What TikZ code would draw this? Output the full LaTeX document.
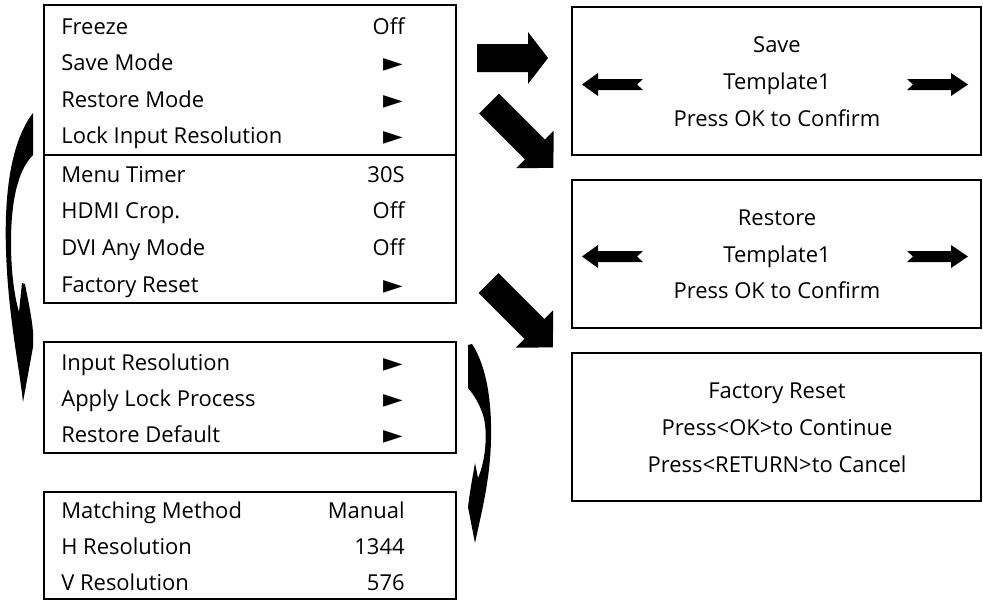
\documentclass[tikz,border=0pt]{standalone}
\usepackage{fontspec}
\setmainfont{Open Sans}
\newfontfamily\symfont{DejaVu Sans}

\tikzset{
    boxline/.style={line width=1.1pt},
    menuitem/.style={anchor=base west, inner sep=0pt, font=\fontsize{12.5}{15}\selectfont},
    menuvalue/.style={anchor=base east, inner sep=0pt, font=\fontsize{12.5}{15}\selectfont},
    menuarrow/.style={anchor=base east, inner sep=0pt, font=\symfont\fontsize{14.5}{16}\selectfont},
    screenline/.style={anchor=base, inner sep=0pt, font=\fontsize{12.5}{15}\selectfont}
}

\begin{document}
\begin{tikzpicture}[x=0.02cm, y=-0.02cm]

    \useasboundingbox (0,0) rectangle (983,603);

    %% Main menu

    % Frame
    \draw[boxline] (44,5) rectangle (456,303);
    \draw[boxline] (44,155) -- (456,155);

    % Items
    \node[menuitem] (freeze) at (61,34) {Freeze};
    \node[menuvalue] (freezeval) at (405,34) {Off};
    \node[menuitem] (savemode) at (61,70) {Save Mode};
    \node[menuarrow] (savemodeval) at (403,71) {►};
    \node[menuitem] (restoremode) at (61,107) {Restore Mode};
    \node[menuarrow] (restoremodeval) at (403,108) {►};
    \node[menuitem] (lockinput) at (61,143) {Lock Input Resolution};
    \node[menuarrow] (lockinputval) at (403,144) {►};
    \node[menuitem] (menutimer) at (61,182) {Menu Timer};
    \node[menuvalue] (menutimerval) at (405,182) {30S};
    \node[menuitem] (hdmicrop) at (61,218) {HDMI Crop.};
    \node[menuvalue] (hdmicropval) at (405,218) {Off};
    \node[menuitem] (dvimode) at (61,255) {DVI Any Mode};
    \node[menuvalue] (dvimodeval) at (405,255) {Off};
    \node[menuitem] (factoryreset) at (61,292) {Factory Reset};
    \node[menuarrow] (factoryresetval) at (403,293) {►};

    %% Lock input resolution submenu

    \draw[boxline] (44,342) rectangle (456,453);
    \node[menuitem] (inputres) at (61,370) {Input Resolution};
    \node[menuarrow] (inputresval) at (403,371) {►};
    \node[menuitem] (applylock) at (61,406) {Apply Lock Process};
    \node[menuarrow] (applylockval) at (403,407) {►};
    \node[menuitem] (restoredefault) at (61,442) {Restore Default};
    \node[menuarrow] (restoredefaultval) at (403,443) {►};

    %% Input resolution submenu

    \draw[boxline] (44,492) rectangle (456,599);
    \node[menuitem] (matching) at (61,518) {Matching Method};
    \node[menuvalue] (matchingval) at (405,518) {Manual};
    \node[menuitem] (hres) at (61,554) {H Resolution};
    \node[menuvalue] (hresval) at (405,554) {1344};
    \node[menuitem] (vres) at (61,590) {V Resolution};
    \node[menuvalue] (vresval) at (405,590) {576};

    %% Save screen

    \draw[boxline] (572,7) rectangle (981,155);
    \node[screenline] (savetitle) at (777,52) {Save};
    \node[screenline] (savetemplate) at (777,89) {Template1};
    \node[screenline] (saveconfirm) at (777,126) {Press OK to Confirm};
    \fill (582,84.5) -- (598,73) -- (598,79) -- (643,79) -- (637,84.5) -- (643,90) -- (598,90) -- (598,96) -- cycle;
    \fill (968,84.5) -- (951,73) -- (951,79) -- (907,79) -- (913,84.5) -- (907,90) -- (951,90) -- (951,96) -- cycle;

    %% Restore screen

    \draw[boxline] (572,180) rectangle (981,328);
    \node[screenline] (restoretitle) at (777,225) {Restore};
    \node[screenline] (restoretemplate) at (777,262) {Template1};
    \node[screenline] (restoreconfirm) at (777,298) {Press OK to Confirm};
    \fill (582,256.5) -- (598,245) -- (598,251) -- (643,251) -- (637,256.5) -- (643,262) -- (598,262) -- (598,268) -- cycle;
    \fill (968,256.5) -- (951,245) -- (951,251) -- (907,251) -- (913,256.5) -- (907,262) -- (951,262) -- (951,268) -- cycle;

    %% Factory reset screen

    \draw[boxline] (572,353) rectangle (981,501);
    \node[screenline] (resettitle) at (777,398) {Factory Reset};
    \node[screenline] (resetok) at (777,435) {Press<OK>to Continue};
    \node[screenline] (resetreturn) at (777,472) {Press<RETURN>to Cancel};

    %% Block arrows

    % To save screen
    \fill (477,44) -- (528,44) -- (528,32) -- (548,58) -- (528,84) -- (528,72) -- (477,72) -- cycle;

    % To restore screen
    \begin{scope}[shift={(489,103.5)}, rotate=-45]
        \fill (0,-14) -- (65,-14) -- (65,-26.5) -- (91,0) -- (65,26.5) -- (65,14) -- (0,14) -- cycle;
    \end{scope}

    % To factory reset screen
    \begin{scope}[shift={(488.5,283)}, rotate=-45]
        \fill (0,-14) -- (65,-14) -- (65,-26.5) -- (91,0) -- (65,26.5) -- (65,14) -- (0,14) -- cycle;
    \end{scope}

    % Main menu to lock submenu
    \fill (33,113) -- (33,155)
        .. controls (18,170) and (11,200) .. (11,243)
        .. controls (11,270) and (14,295) .. (19,312)
        -- (22,283) -- (25,284)
        .. controls (28,300) and (32,318) .. (33,332)
        -- (33,347) -- (23,402)
        .. controls (19,365) and (8,315) .. (6,250)
        .. controls (4,190) and (12,140) .. (33,113) -- cycle;

    % Lock submenu to resolution submenu
    \fill (468,345) -- (472,344)
        .. controls (486,365) and (492,400) .. (491,440)
        .. controls (490,480) and (482,510) .. (475,543)
        -- (468,507)
        .. controls (470,490) and (473,475) .. (475,463)
        -- (478,478)
        .. controls (486,460) and (488,430) .. (483,415)
        .. controls (480,405) and (474,395) .. (468,388) -- cycle;

\end{tikzpicture}
\end{document}
